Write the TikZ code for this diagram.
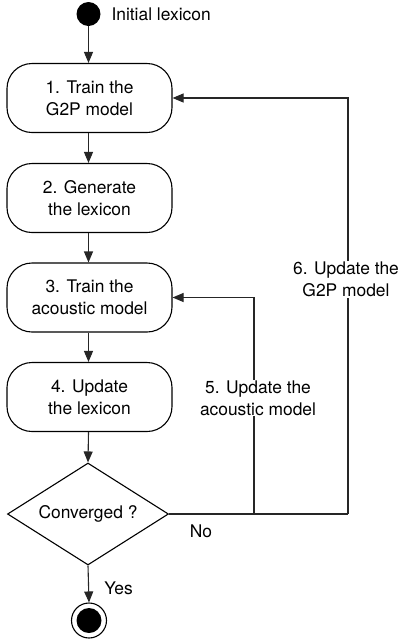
\documentclass[tikz,border=0pt]{standalone}
\usepackage{fontspec}
\setmainfont{TeX Gyre Heros}
\usetikzlibrary{shapes.geometric,arrows.meta}
\begin{document}
\begin{tikzpicture}[x=1pt,y=-1pt,
  every node/.style={font=\fontsize{17.4}{22}\selectfont},
  stepbox/.style={draw, line width=1.1pt, rectangle, rounded corners=25pt, minimum width=165pt, minimum height=69pt, align=center, inner sep=0pt},
  decision/.style={draw, line width=1.1pt, diamond, minimum width=161pt, minimum height=102pt, aspect=1.58, inner sep=0pt},
  conn/.style={line width=1.1pt, draw=black!85},
  arr/.style={conn, -{Triangle[length=11pt,width=9pt]}},
  lbl/.style={fill=white, align=center, inner sep=1pt}
]
\useasboundingbox (0,0) rectangle (401,641);
\node[circle, fill=black, minimum size=24pt, inner sep=0pt] (start) at (88.5,14) {};
\node[anchor=west] (startlbl) at (108,14) {Initial lexicon};
\node[stepbox] (b1) at (89.5,98) {1. Train the\\G2P model};
\node[stepbox] (b2) at (89.5,198) {2. Generate\\the lexicon};
\node[stepbox] (b3) at (89.5,297.5) {3. Train the\\acoustic model};
\node[stepbox] (b4) at (89.5,397) {4. Update\\the lexicon};
\node[decision] (dec) at (88,514) {Converged ?};
\node[circle, draw, line width=1.1pt, minimum size=35pt, inner sep=0pt] (end) at (89,620.5) {};
\node[circle, fill=black, minimum size=25pt, inner sep=0pt] (endin) at (end) {};

\coordinate (j5) at (254,514);
\coordinate (j6) at (348,514);

\draw[arr] (start) -- (start |- b1.north);
\draw[arr] (b1.south -| start) -- (b2.north -| start);
\draw[arr] (b2.south -| start) -- (b3.north -| start);
\draw[arr] (b3.south -| start) -- (b4.north -| start);
\draw[arr] (b4.south -| start) -- (dec.north);
\draw[arr] (dec.south) -- (end.north);
\draw[conn] (dec.east) -- (j6);
\draw[arr] (j5) |- (b3.east);
\draw[arr] (j6) |- (b1.east);

\node[lbl] (l5) at (258,398) {5. Update the\\acoustic model};
\node[lbl] (l6) at (346,279) {6. Update the\\G2P model};
\node (no) at (201,531) {No};
\node (yes) at (118.5,588) {Yes};
\end{tikzpicture}
\end{document}
